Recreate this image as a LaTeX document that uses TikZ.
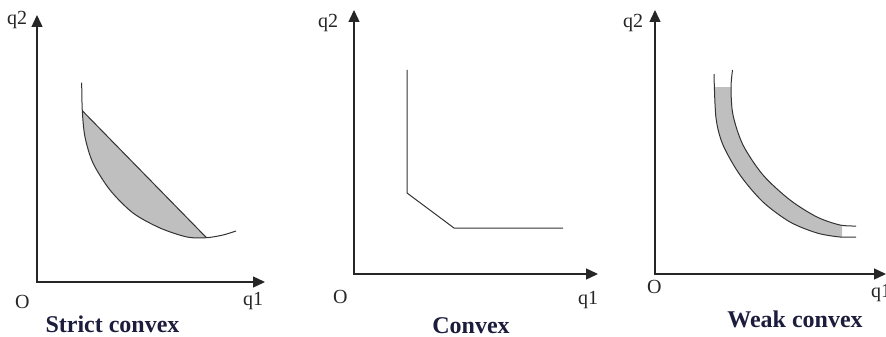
\documentclass[tikz,border=0pt]{standalone}
\usepackage{fontspec}
\setmainfont{Liberation Serif}
\usetikzlibrary{arrows.meta}
\definecolor{capblue}{HTML}{1C1C3C}

\begin{document}
\begin{tikzpicture}[
  x=1pt, y=-1pt,
  axis/.style={{Triangle[length=12pt,width=11pt]}-{Triangle[length=12pt,width=11pt]}, line width=1.4pt, black!85},
  curve/.style={line width=1pt, black!80},
  shade/.style={fill=black!25},
  lbl/.style={inner sep=0pt, font=\fontsize{20}{24}\selectfont, black!85},
  captext/.style={inner sep=0pt, anchor=base, font=\fontsize{24}{28}\selectfont\bfseries, text=capblue}
]
\useasboundingbox (0,0) rectangle (886,337);

% strict convex
\begin{scope}
  \clip (82.3,110.7) -- (206.5,237.7) -- (206.5,260) -- (60,260) -- (60,110.7) -- cycle;
  \fill[shade] plot[smooth] coordinates {(81.7,82.7) (82.3,110.7) (85,137) (93,163) (110,190) (133,213) (160,228) (187,237) (206.5,237.7) (223,235) (236,231)} -- cycle;
\end{scope}
\draw[curve] plot[smooth] coordinates {(81.7,82.7) (82.3,110.7) (85,137) (93,163) (110,190) (133,213) (160,228) (187,237) (206.5,237.7) (223,235) (236,231)};
\coordinate (chordA) at (82.3,110.7);
\coordinate (chordB) at (206.5,237.7);
\draw[curve] (chordA) -- (chordB);
\draw[axis] (37,15) -- (37,282) -- (265,282);
\node[lbl, anchor=base west] (qtwoA) at (7,25) {q2};
\node[lbl, anchor=base west] (qoneA) at (243,305) {q1};
\node[lbl, anchor=base west] (oA) at (15,308) {O};
\node[captext] (capA) at (112.5,332) {Strict convex};

% convex
\coordinate (kinkTop) at (407,70);
\coordinate (kinkA) at (407,193);
\coordinate (kinkB) at (454,228);
\coordinate (kinkEnd) at (563,228);
\draw[curve] (kinkTop) -- (kinkA) -- (kinkB) -- (kinkEnd);
\draw[axis] (354,10) -- (354,274) -- (598,274);
\node[lbl, anchor=base west] (qtwoB) at (318,28) {q2};
\node[lbl, anchor=base west] (qoneB) at (578,304) {q1};
\node[lbl, anchor=base west] (oB) at (333,303) {O};
\node[captext] (capB) at (471,333) {Convex};

% weak convex
\begin{scope}
  \clip (700,87) rectangle (842,260);
  \fill[shade] plot[smooth] coordinates {(714,74) (716,118) (723,145) (740,175) (763,202) (790,222) (817,233) (840,237) (856,237)}
    -- plot[smooth] coordinates {(856,226) (840,225) (817,217) (790,200) (763,175) (743,145) (733,115) (731,88) (732.5,70)} -- cycle;
\end{scope}
\draw[curve] plot[smooth] coordinates {(714,74) (716,118) (723,145) (740,175) (763,202) (790,222) (817,233) (840,237) (856,237)};
\draw[curve] plot[smooth] coordinates {(732.5,70) (731,88) (733,115) (743,145) (763,175) (790,200) (817,217) (840,225) (856,226)};
\draw[axis] (655,10) -- (655,274) -- (886,274);
\node[lbl, anchor=base west] (qtwoC) at (623,28) {q2};
\node[lbl, anchor=base west] (qoneC) at (871,297) {q1};
\node[lbl, anchor=base west] (oC) at (647,293) {O};
\node[captext] (capC) at (795,327) {Weak convex};
\end{tikzpicture}
\end{document}
